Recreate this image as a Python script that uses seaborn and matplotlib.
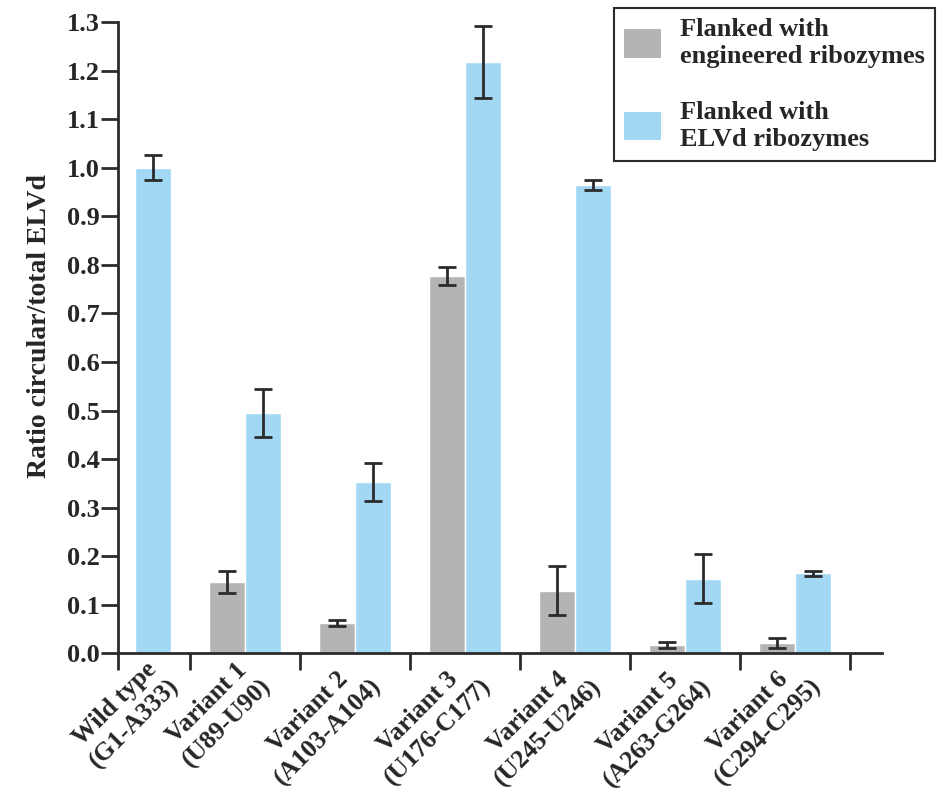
#!/usr/bin/env python
# coding=utf-8
import numpy as np
import pandas as pd
import matplotlib
matplotlib.use('Agg')
import matplotlib.pyplot as plt
import matplotlib.transforms as mtransforms
import seaborn as sns


categories = ['Wild type\n(G1-A333)', 'Variant 1\n(U89-U90)',
              'Variant 2\n(A103-A104)', 'Variant 3\n(U176-C177)',
              'Variant 4\n(U245-U246)', 'Variant 5\n(A263-G264)',
              'Variant 6\n(C294-C295)']
series = ['Flanked with\nengineered ribozymes', 'Flanked with\nELVd ribozymes']
engineered_mean = [np.nan, 0.147, 0.062, 0.777, 0.129, 0.018, 0.021]
engineered_err = [np.nan, 0.022, 0.006, 0.019, 0.051, 0.006, 0.011]
elvd_mean = [1.000, 0.495, 0.353, 1.218, 0.965, 0.154, 0.165]
elvd_err = [0.026, 0.050, 0.040, 0.074, 0.010, 0.050, 0.005]
yticks = [0.0, 0.1, 0.2, 0.3, 0.4, 0.5, 0.6, 0.7, 0.8, 0.9, 1.0, 1.1, 1.2, 1.3]

GREY = '#b4b4b4'
BLUE = '#a3d8f5'
DARK = '#2b2b2b'
FONT = ['Liberation Serif', 'DejaVu Serif']


def main():
    sns.set_style('ticks')
    plt.rcParams['font.family'] = FONT
    plt.rcParams['font.weight'] = 'bold'

    df = pd.DataFrame({
        'category': categories * 2,
        'series': [series[0]] * len(categories) + [series[1]] * len(categories),
        'value': engineered_mean + elvd_mean,
        'err': engineered_err + elvd_err,
    })

    fig, ax = plt.subplots(figsize=(9.4, 7.9), dpi=100)
    fig.subplots_adjust(left=0.1255, right=0.938, bottom=0.173, top=0.972)

    sns.barplot(data=df, x='category', y='value', hue='series',
                order=categories, hue_order=series,
                palette=[GREY, BLUE], errorbar=None, width=0.655,
                saturation=1, ax=ax)

    # error bars
    lookup = {(r.series, r.category): r.err for r in df.itertuples()}
    for cont, name in zip(ax.containers, series):
        for bar in cont:
            h = bar.get_height()
            if not np.isfinite(h) or h == 0:
                continue
            cx = bar.get_x() + bar.get_width() / 2
            cat = categories[int(round(cx))]
            ax.errorbar(cx, h, yerr=lookup[(name, cat)], color=DARK,
                        elinewidth=2, capsize=6.8, capthick=2, zorder=5)

    # label positions: under the group, or under the lone wild type bar
    label_pos = list(range(len(categories)))
    for bar in ax.containers[1]:
        cx = bar.get_x() + bar.get_width() / 2
        if int(round(cx)) == 0:
            label_pos[0] = cx
            break

    ax.set_xlim(-0.155, 6.79)
    ax.set_ylim(0, 1.3)
    ax.set_yticks(yticks)
    ax.set_yticklabels(['{:.1f}'.format(t) for t in yticks])

    ax.set_xticks(label_pos)
    ax.set_xticklabels(categories, rotation=45, ha='right', va='center',
                       rotation_mode='anchor', multialignment='center',
                       linespacing=1.3)
    ax.set_xticks([-0.155] + [i + 0.5 for i in range(len(categories))],
                  minor=True)
    ax.tick_params(axis='x', which='major', length=0, pad=14, labelsize=18.5)
    ax.tick_params(axis='x', which='minor', length=12, width=2, color=DARK)
    ax.tick_params(axis='y', length=12, width=2, color=DARK, pad=1,
                   labelsize=19)
    offset = mtransforms.ScaledTranslation(0.13, 0, fig.dpi_scale_trans)
    for lbl in ax.get_xticklabels():
        lbl.set_transform(lbl.get_transform() + offset)
        lbl.set_fontweight('bold')
    for lbl in ax.get_yticklabels():
        lbl.set_fontweight('bold')

    ax.set_xlabel('')
    ax.set_ylabel('Ratio circular/total ELVd', fontsize=20,
                  fontweight='bold')
    ax.yaxis.set_label_coords(-0.087, 0.518)

    sns.despine(ax=ax)
    for side in ('left', 'bottom'):
        ax.spines[side].set_linewidth(2)
        ax.spines[side].set_color(DARK)

    handles, labels = ax.get_legend_handles_labels()
    ax.get_legend().remove()
    leg = fig.legend(handles, labels, loc='upper right',
                     bbox_to_anchor=(0.995, 0.99),
                     bbox_transform=fig.transFigure, borderaxespad=0,
                     frameon=True, fancybox=False,
                     handlelength=1.4, handleheight=1.3, handletextpad=0.7,
                     labelspacing=1.25, borderpad=0.4,
                     prop={'family': FONT, 'weight': 'bold', 'size': 19})
    leg.get_frame().set_edgecolor(DARK)
    leg.get_frame().set_linewidth(1.5)
    leg.get_frame().set_alpha(1)
    for h in leg.legend_handles:
        h.set_edgecolor('none')

    fig.savefig('out.png', dpi=100)


if __name__ == '__main__':
    main()
